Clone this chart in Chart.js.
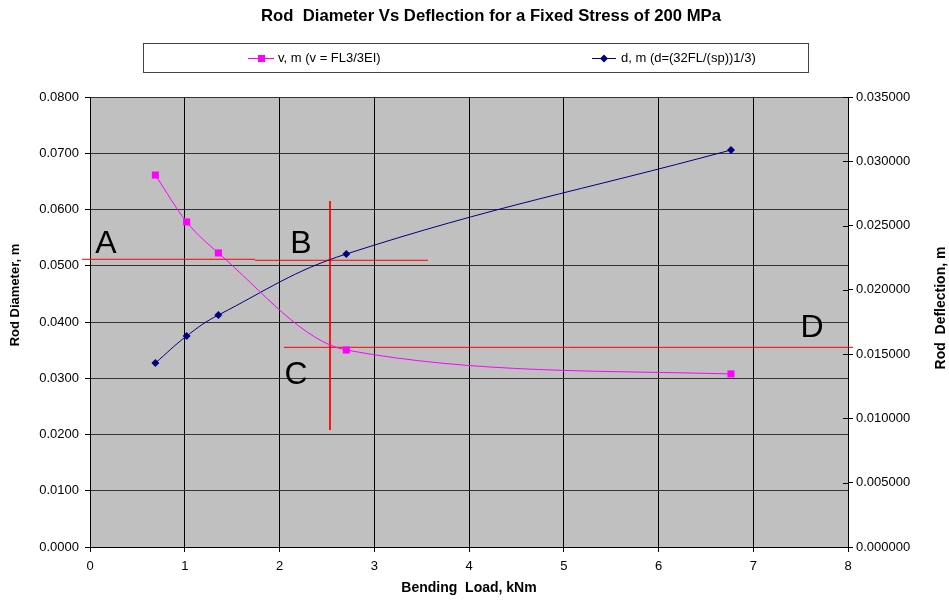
<!DOCTYPE html>
<html>
<head>
<meta charset="utf-8">
<script src="https://cdn.jsdelivr.net/npm/chart.js@4.4.1/dist/chart.umd.min.js"></script>
<style>
html,body{margin:0;padding:0;background:#fff;}
canvas{display:block;}
</style>
</head>
<body>
<canvas id="c" width="949" height="602"></canvas>
<script>
// ---- data ----
const loads = [0.69, 1.02, 1.355, 2.705, 6.765];            // Bending load, kNm
const deflection = [0.02893, 0.02528, 0.02287, 0.01532, 0.01346]; // v, m (right axis)
const diameter = [0.03271, 0.03751, 0.04124, 0.05209, 0.07058];   // d, m (left axis)
const xTicks = [0, 1, 2, 3, 4, 5, 6, 7, 8];
const leftTicks = [0, 0.01, 0.02, 0.03, 0.04, 0.05, 0.06, 0.07, 0.08];
const rightTicks = [0, 0.005, 0.01, 0.015, 0.02, 0.025, 0.03, 0.035];
const seriesLabels = ['v, m (v = FL3/3EI)', 'd, m (d=(32FL/(sp))1/3)'];
// red annotation lines (data coords, left axis)
const lineA1x = [-0.085, 1.74], lineA1y = [0.05115, 0.05115];
const lineA2x = [1.74, 3.567], lineA2y = [0.05097, 0.05097];
const lineVx = [2.533, 2.533], lineVy = [0.0615, 0.0208];
const lineDx = [2.047, 8.053], lineDy = [0.0355, 0.0355];
const letterText = ['A', 'B', 'C', 'D'];
const letterX = [0.169, 2.227, 2.174, 7.62];
const letterY = [0.05227, 0.05227, 0.02898, 0.03733];

const pts = (xs, ys) => xs.map((x, i) => ({x: x, y: ys[i]}));
const FONT = 'Arial, "Liberation Sans", sans-serif';

const redLine = (xs, ys) => ({
  type: 'line', data: pts(xs, ys), yAxisID: 'y', borderColor: '#ff0000',
  borderWidth: 1, pointRadius: 0, tension: 0, clip: false, fill: false
});

const bgPlugin = {
  id: 'bg',
  beforeDraw(chart) {
    const {ctx, chartArea: a} = chart;
    ctx.save();
    ctx.fillStyle = '#fff';
    ctx.fillRect(0, 0, chart.width, chart.height);
    ctx.fillStyle = '#c0c0c0';
    ctx.fillRect(a.left, a.top, a.right - a.left, a.bottom - a.top);
    ctx.restore();
  }
};

const decoPlugin = {
  id: 'deco',
  afterDraw(chart) {
    const {ctx, chartArea: a, scales} = chart;
    ctx.save();
    // inner tick marks on right axis
    ctx.strokeStyle = '#000';
    ctx.lineWidth = 1;
    scales.y2.ticks.forEach(t => {
      const py = Math.round(scales.y2.getPixelForValue(t.value)) + 0.5;
      ctx.beginPath();
      ctx.moveTo(a.right - 5, py);
      ctx.lineTo(a.right, py);
      ctx.stroke();
    });
    // title
    ctx.fillStyle = '#000';
    ctx.font = 'bold 16.7px ' + FONT;
    ctx.textAlign = 'center';
    ctx.textBaseline = 'middle';
    ctx.fillText('Rod  Diameter Vs Deflection for a Fixed Stress of 200 MPa', 491, 16);
    // axis titles
    ctx.font = 'bold 14px ' + FONT;
    ctx.fillText('Bending  Load, kNm', (a.left + a.right) / 2, 588);
    ctx.save();
    ctx.translate(15, 295);
    ctx.rotate(-Math.PI / 2);
    ctx.font = 'bold 13px ' + FONT;
    ctx.fillText('Rod Diameter, m', 0, 0);
    ctx.restore();
    ctx.save();
    ctx.translate(941, 308);
    ctx.rotate(-Math.PI / 2);
    ctx.font = 'bold 14px ' + FONT;
    ctx.fillText('Rod  Deflection, m', 0, 0);
    ctx.restore();
    // legend
    ctx.fillStyle = '#fff';
    ctx.fillRect(143.5, 43.5, 665, 29);
    ctx.strokeStyle = '#444';
    ctx.strokeRect(143.5, 43.5, 665, 29);
    ctx.font = '13px ' + FONT;
    ctx.textAlign = 'left';
    ctx.textBaseline = 'middle';
    const ly = 58.5;
    // pink
    ctx.strokeStyle = '#ff00ff';
    ctx.beginPath(); ctx.moveTo(248, ly); ctx.lineTo(274, ly); ctx.stroke();
    ctx.fillStyle = '#ff00ff';
    ctx.fillRect(258, ly - 3.5, 7, 7);
    ctx.fillStyle = '#000';
    ctx.fillText(seriesLabels[0], 278, ly);
    // blue
    ctx.strokeStyle = '#000080';
    ctx.beginPath(); ctx.moveTo(592, ly); ctx.lineTo(616, ly); ctx.stroke();
    ctx.fillStyle = '#000080';
    ctx.beginPath();
    ctx.moveTo(604, ly - 4); ctx.lineTo(608, ly); ctx.lineTo(604, ly + 4); ctx.lineTo(600, ly);
    ctx.closePath(); ctx.fill();
    ctx.fillStyle = '#000';
    ctx.fillText(seriesLabels[1], 621, ly);
    // letters
    ctx.font = '32px ' + FONT;
    ctx.textAlign = 'center';
    ctx.textBaseline = 'alphabetic';
    letterText.forEach((t, i) => {
      ctx.fillText(t, scales.x.getPixelForValue(letterX[i]), scales.y.getPixelForValue(letterY[i]));
    });
    ctx.restore();
  }
};

new Chart(document.getElementById('c'), {
  type: 'line',
  data: {
    datasets: [
      {
        label: seriesLabels[0], data: pts(loads, deflection), yAxisID: 'y2',
        borderColor: '#ff00ff', backgroundColor: '#ff00ff', borderWidth: 1,
        pointStyle: 'rect', pointRadius: 5, pointBorderWidth: 0,
        cubicInterpolationMode: 'monotone', fill: false
      },
      {
        label: seriesLabels[1], data: pts(loads, diameter), yAxisID: 'y',
        borderColor: '#000080', backgroundColor: '#000080', borderWidth: 1,
        pointStyle: 'rectRot', pointRadius: 4, pointBorderWidth: 0, tension: 0.4, fill: false
      },
      redLine(lineA1x, lineA1y),
      redLine(lineA2x, lineA2y),
      redLine(lineVx, lineVy),
      redLine(lineDx, lineDy)
    ]
  },
  options: {
    responsive: false,
    animation: false,
    devicePixelRatio: 1,
    layout: {padding: {top: 97, left: 0, right: 0, bottom: 0}},
    plugins: {legend: {display: false}, tooltip: {enabled: false}, title: {display: false}},
    scales: {
      x: {
        type: 'linear', min: 0, max: 8,
        afterBuildTicks: s => { s.ticks = xTicks.map(v => ({value: v})); },
        ticks: {color: '#000', font: {size: 13, family: FONT}, padding: 7, callback: v => String(v), maxRotation: 0},
        grid: {color: '#000', lineWidth: 1, tickLength: 5, tickColor: '#000'},
        border: {color: '#000'},
        afterFit: s => { s.height = 55; }
      },
      y: {
        position: 'left', min: 0, max: 0.08,
        afterBuildTicks: s => { s.ticks = leftTicks.map(v => ({value: v})); },
        ticks: {color: '#000', font: {size: 13, family: FONT}, padding: 6, callback: v => Number(v).toFixed(4)},
        grid: {color: '#333', lineWidth: 1, tickLength: 5, tickColor: '#000'},
        border: {color: '#000'},
        afterFit: s => { s.width = 90; }
      },
      y2: {
        position: 'right', min: 0, max: 0.035,
        afterBuildTicks: s => { s.ticks = rightTicks.map(v => ({value: v})); },
        ticks: {color: '#000', font: {size: 13, family: FONT}, padding: 3, callback: v => Number(v).toFixed(6)},
        grid: {drawOnChartArea: false, tickLength: 5, tickColor: '#000'},
        border: {color: '#000'},
        afterFit: s => { s.width = 101; }
      }
    }
  },
  plugins: [bgPlugin, decoPlugin]
});
</script>
</body>
</html>
